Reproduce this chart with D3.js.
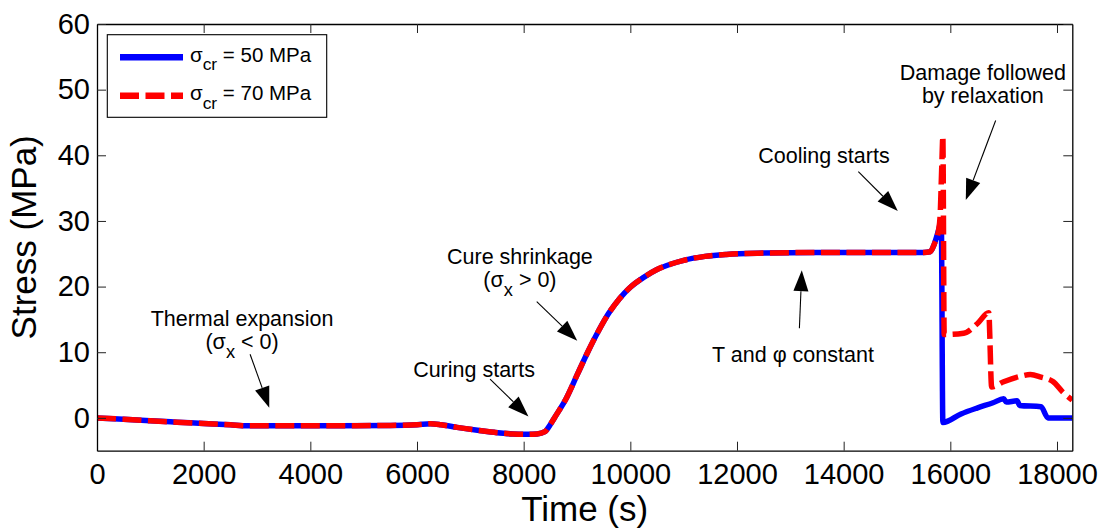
<!DOCTYPE html>
<html>
<head>
<meta charset="utf-8">
<script src="https://cdn.jsdelivr.net/npm/d3@7"></script>
<style>
    body { margin: 0; background: #fff; }
    svg { display: block; font-family: "Liberation Sans", Arial, Helvetica, sans-serif; }
</style>
</head>
<body>
<svg id="chart" width="1102" height="529"></svg>
<script>
// both runs are identical until the damage kicks in (~15800 s)
const timeShared = [0, 500, 1000, 1500, 2000, 2500, 2800, 3500, 4500, 5500, 6000, 6250, 6450, 6750,
    7100, 7450, 7800, 8050, 8250, 8400, 8500, 8600, 8800, 9000, 9200, 9400, 9600, 9800, 10000,
    10250, 10500, 10750, 11000, 11400, 11800, 12500, 13500, 14500, 15500, 15620, 15700, 15780];
const stressShared = [0, -0.2, -0.45, -0.65, -0.85, -1.05, -1.2, -1.2, -1.2, -1.15, -1.05, -0.9, -1.05, -1.45,
    -1.85, -2.2, -2.45, -2.5, -2.45, -2.1, -1.0, 0.3, 3.0, 6.5, 10.0, 13.2, 16.0, 18.2, 19.9,
    21.4, 22.6, 23.4, 24.0, 24.6, 24.9, 25.1, 25.2, 25.2, 25.2, 25.3, 26.5, 28.6];

// sigma_cr = 50 MPa
const timeCr50 = [15830, 15860, 16200, 16500, 16800, 17000, 17050, 17250, 17300, 17700, 17830, 18287];
const stressCr50 = [30.0, -0.7, 0.6, 1.5, 2.3, 2.9, 2.4, 2.6, 1.9, 1.7, 0.0, 0.0];

// sigma_cr = 70 MPa
const timeCr70 = [15810, 15840, 15860, 15885, 16250, 16500, 16720, 16775, 17000, 17300, 17500, 17700, 17930, 18100, 18287];
const stressCr70 = [31.0, 38.5, 42.9, 12.7, 12.9, 14.3, 16.0, 4.7, 5.5, 6.3, 6.6, 6.2, 5.5, 4.0, 2.7];

const seriesLabels = ['σ_{cr} = 50 MPa', 'σ_{cr} = 70 MPa'];
const xTicks = [0, 2000, 4000, 6000, 8000, 10000, 12000, 14000, 16000, 18000];
const yTicks = [0, 10, 20, 30, 40, 50, 60];
const timeMax = 18287;

// annotation text + arrows, in data units (t, stress)
const notes = [
    { lines: ['Thermal expansion', '(σ_{x} < 0)'], at: [2720, 14.0], step: 3.45, from: [2870, 9.7], to: [3230, 1.55] },
    { lines: ['Curing starts'], at: [7070, 6.3], step: 0, from: [7370, 5.9], to: [8090, 0.2] },
    { lines: ['Cure shrinkage', '(σ_{x} > 0)'], at: [7930, 23.45], step: 3.45, from: [8245, 17.7], to: [9005, 11.75] },
    { lines: ['T and φ constant'], at: [13050, 8.55], step: 0, from: [13170, 13.65], to: [13215, 22.5] },
    { lines: ['Cooling starts'], at: [13630, 38.85], step: 0, from: [14275, 37.5], to: [15015, 31.5] },
    { lines: ['Damage followed', 'by relaxation'], at: [16610, 51.45], step: 3.55, from: [16850, 45.3], to: [16290, 33.2] }
];

const svg = d3.select('#chart');
const x = d3.scaleLinear().domain([0, timeMax]).range([97, 1072.3]);
const y = d3.scaleLinear().domain([-5, 60]).range([450.7, 24]);
const [x0, x1] = x.range();
const [y0, y1] = [y.range()[1], y.range()[0]];

// writes "a_{b}c" as tspans with a lowered subscript
function richText(sel, str, size) {
    const parts = str.split(/_\{([^}]*)\}/);
    const shift = size * 0.42;
    parts.forEach((p, i) => {
        if (p === '') return;
        const isSub = i % 2 === 1;
        const t = sel.append('tspan').text(p);
        if (isSub) t.attr('dy', shift).style('font-size', `${size * 0.85}px`);
        else if (i > 0) t.attr('dy', -shift);
    });
}

svg.append('defs').append('clipPath').attr('id', 'plotclip')
    .append('rect').attr('x', x0).attr('y', y0 - 10).attr('width', x1 - x0).attr('height', y1 - y0 + 10);

// series
const series = [
    { t: timeShared.concat(timeCr50), s: stressShared.concat(stressCr50), color: '#0000ff', dash: null },
    { t: timeShared.concat(timeCr70), s: stressShared.concat(stressCr70), color: '#ff0000', dash: '19,6.5' }
];
const line = d3.line()
    .x(d => x(d[0]))
    .y(d => y(d[1]))
    .curve(d3.curveMonotoneX);

svg.append('g').attr('clip-path', 'url(#plotclip)')
    .selectAll('path')
    .data(series)
    .join('path')
    .attr('d', d => line(d.t.map((t, i) => [t, d.s[i]])))
    .attr('fill', 'none')
    .attr('stroke', d => d.color)
    .attr('stroke-width', 5.5)
    .attr('stroke-linejoin', 'round')
    .attr('stroke-dasharray', d => d.dash);

// axes, MATLAB box style with inward ticks
const tickLen = 9;
const fmt = d3.format('d');
const axes = [
    { gen: d3.axisBottom(x).tickValues(xTicks).tickFormat(fmt).tickPadding(13), tr: `translate(0,${y1})` },
    { gen: d3.axisTop(x).tickValues(xTicks).tickFormat(''), tr: `translate(0,${y0})` },
    { gen: d3.axisLeft(y).tickValues(yTicks).tickFormat(fmt).tickPadding(7), tr: `translate(${x0},0)` },
    { gen: d3.axisRight(y).tickValues(yTicks).tickFormat(''), tr: `translate(${x1},0)` }
];
axes.forEach(a => {
    const g = svg.append('g')
        .attr('transform', a.tr)
        .call(a.gen.tickSizeInner(-tickLen).tickSizeOuter(0));
    g.attr('font-family', null).attr('font-size', null);
    g.select('.domain').attr('stroke', '#000').attr('stroke-width', 1.3);
    g.selectAll('.tick line').attr('stroke', '#222').attr('stroke-width', 1);
    g.selectAll('.tick text').style('font-size', '29px').attr('fill', '#000');
});

// axis titles
svg.append('text')
    .attr('x', (x0 + x1) / 2)
    .attr('y', 521)
    .attr('text-anchor', 'middle')
    .style('font-size', '35px')
    .text('Time (s)');
svg.append('text')
    .attr('transform', `translate(36,${(y0 + y1) / 2}) rotate(-90)`)
    .attr('text-anchor', 'middle')
    .style('font-size', '35px')
    .text('Stress (MPa)');

// annotations
const noteSize = 21.5;
const ann = svg.append('g').attr('class', 'notes');
notes.forEach(n => {
    const txt = ann.append('text')
        .attr('text-anchor', 'middle')
        .style('font-size', `${noteSize}px`);
    n.lines.forEach((l, i) => {
        const row = txt.append('tspan').attr('x', x(n.at[0])).attr('y', y(n.at[1] - i * n.step));
        richText(row, l, noteSize);
    });

    const [ax, ay] = [x(n.from[0]), y(n.from[1])];
    const [bx, by] = [x(n.to[0]), y(n.to[1])];
    const len = Math.hypot(bx - ax, by - ay);
    const [ux, uy] = [(bx - ax) / len, (by - ay) / len];
    const headL = 21, headW = 7.5;
    const [cx, cy] = [bx - ux * headL, by - uy * headL];
    ann.append('line')
        .attr('x1', ax).attr('y1', ay).attr('x2', cx).attr('y2', cy)
        .attr('stroke', '#000').attr('stroke-width', 1.1);
    ann.append('path')
        .attr('d', `M${bx},${by}L${cx - uy * headW},${cy + ux * headW}L${cx + uy * headW},${cy - ux * headW}Z`)
        .attr('fill', '#000');
});

// legend
const legend = svg.append('g').attr('transform', `translate(${x0 + 10.3},${y0 + 10.7})`);
legend.append('rect')
    .attr('width', 219.4).attr('height', 82.6)
    .attr('fill', '#fff').attr('stroke', '#000').attr('stroke-width', 1.1);
const legSize = 20.5;
const rows = legend.selectAll('.row')
    .data(series)
    .join('g')
    .attr('class', 'row')
    .attr('transform', (d, i) => `translate(0,${22.6 + i * 38.4})`);
rows.append('line')
    .attr('x1', 12.7).attr('x2', 75.7)
    .attr('stroke', d => d.color)
    .attr('stroke-width', 6.5)
    .attr('stroke-dasharray', d => d.dash);
rows.append('text')
    .attr('x', 82.7).attr('y', 4.4)
    .style('font-size', `${legSize}px`)
    .each(function(d, i) { richText(d3.select(this), seriesLabels[i], legSize); });
</script>
</body>
</html>
